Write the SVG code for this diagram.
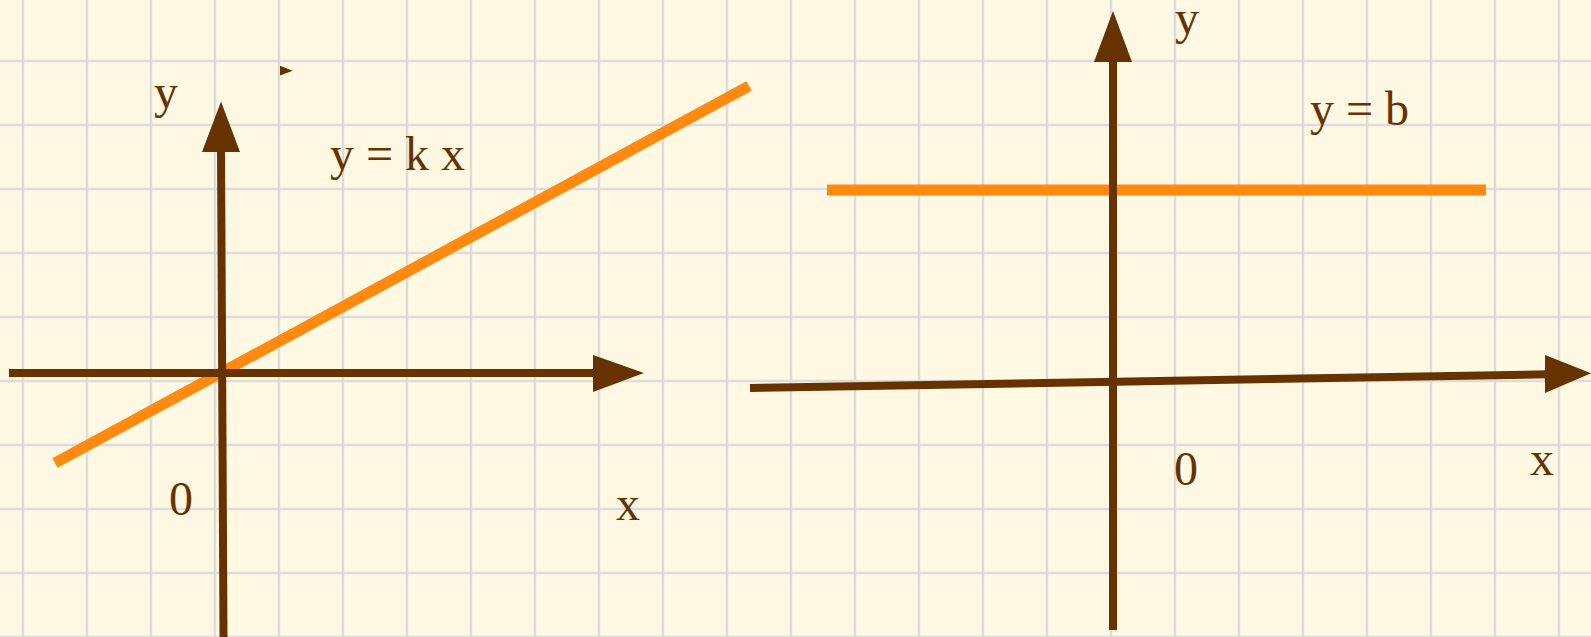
<svg xmlns="http://www.w3.org/2000/svg" width="1591" height="637" viewBox="0 0 1591 637">
<style>
.grid line{stroke:#dcdcdc;stroke-width:2.5}
.axis{stroke:#663300;stroke-width:8;fill:none}
.head{fill:#663300}
.graph{stroke:#ff8a0f;stroke-width:11;fill:none}
.t{font-family:"Liberation Serif","Times New Roman",serif;font-size:48px;fill:#663300}
</style>
<rect width="1591" height="637" fill="#fff8e2"/>
<g class="grid" id="grid">
<line x1="0" y1="-3" x2="1591" y2="-3"/>
<line x1="0" y1="61" x2="1591" y2="61"/>
<line x1="0" y1="125" x2="1591" y2="125"/>
<line x1="0" y1="189" x2="1591" y2="189"/>
<line x1="0" y1="253" x2="1591" y2="253"/>
<line x1="0" y1="317" x2="1591" y2="317"/>
<line x1="0" y1="381" x2="1591" y2="381"/>
<line x1="0" y1="445" x2="1591" y2="445"/>
<line x1="0" y1="509" x2="1591" y2="509"/>
<line x1="0" y1="573" x2="1591" y2="573"/>
<line x1="0" y1="637" x2="1591" y2="637"/>
<line x1="23" y1="0" x2="23" y2="637"/>
<line x1="87" y1="0" x2="87" y2="637"/>
<line x1="151" y1="0" x2="151" y2="637"/>
<line x1="215" y1="0" x2="215" y2="637"/>
<line x1="279" y1="0" x2="279" y2="637"/>
<line x1="343" y1="0" x2="343" y2="637"/>
<line x1="407" y1="0" x2="407" y2="637"/>
<line x1="471" y1="0" x2="471" y2="637"/>
<line x1="535" y1="0" x2="535" y2="637"/>
<line x1="599" y1="0" x2="599" y2="637"/>
<line x1="663" y1="0" x2="663" y2="637"/>
<line x1="727" y1="0" x2="727" y2="637"/>
<line x1="791" y1="0" x2="791" y2="637"/>
<line x1="855" y1="0" x2="855" y2="637"/>
<line x1="919" y1="0" x2="919" y2="637"/>
<line x1="983" y1="0" x2="983" y2="637"/>
<line x1="1047" y1="0" x2="1047" y2="637"/>
<line x1="1111" y1="0" x2="1111" y2="637"/>
<line x1="1175" y1="0" x2="1175" y2="637"/>
<line x1="1239" y1="0" x2="1239" y2="637"/>
<line x1="1303" y1="0" x2="1303" y2="637"/>
<line x1="1367" y1="0" x2="1367" y2="637"/>
<line x1="1431" y1="0" x2="1431" y2="637"/>
<line x1="1495" y1="0" x2="1495" y2="637"/>
<line x1="1559" y1="0" x2="1559" y2="637"/>
</g>
<g id="left-graph">
<line class="graph" x1="55" y1="463" x2="749" y2="86"/>
</g>
<g id="left-axes">
<line class="axis" x1="9" y1="373" x2="596" y2="373"/>
<polygon class="head" points="593,355 644,373 593,392"/>
<line class="axis" x1="221" y1="150" x2="223.5" y2="637"/>
<polygon class="head" points="202,152 221,101.5 240,152"/>
<polygon class="head" points="280,65.7 292.7,70.7 280,75.5"/>
</g>
<g id="left-labels">
<text class="t" x="154" y="108">y</text>
<text class="t" x="330" y="170">y = k x</text>
<text class="t" x="169" y="515">0</text>
<text class="t" x="616" y="520">x</text>
</g>
<g id="right-graph">
<line class="graph" x1="827" y1="190" x2="1486" y2="190"/>
</g>
<g id="right-axes">
<line class="axis" x1="1113" y1="58" x2="1113" y2="630"/>
<polygon class="head" points="1094,62 1113,11 1132,62"/>
<line class="axis" x1="750" y1="388" x2="1548" y2="374.3"/>
<polygon class="head" points="1545,355 1591,373.3 1545,393"/>
</g>
<g id="right-labels">
<text class="t" x="1175" y="34">y</text>
<text class="t" x="1310" y="125">y = b</text>
<text class="t" x="1174" y="485">0</text>
<text class="t" x="1530" y="475">x</text>
</g>
</svg>
